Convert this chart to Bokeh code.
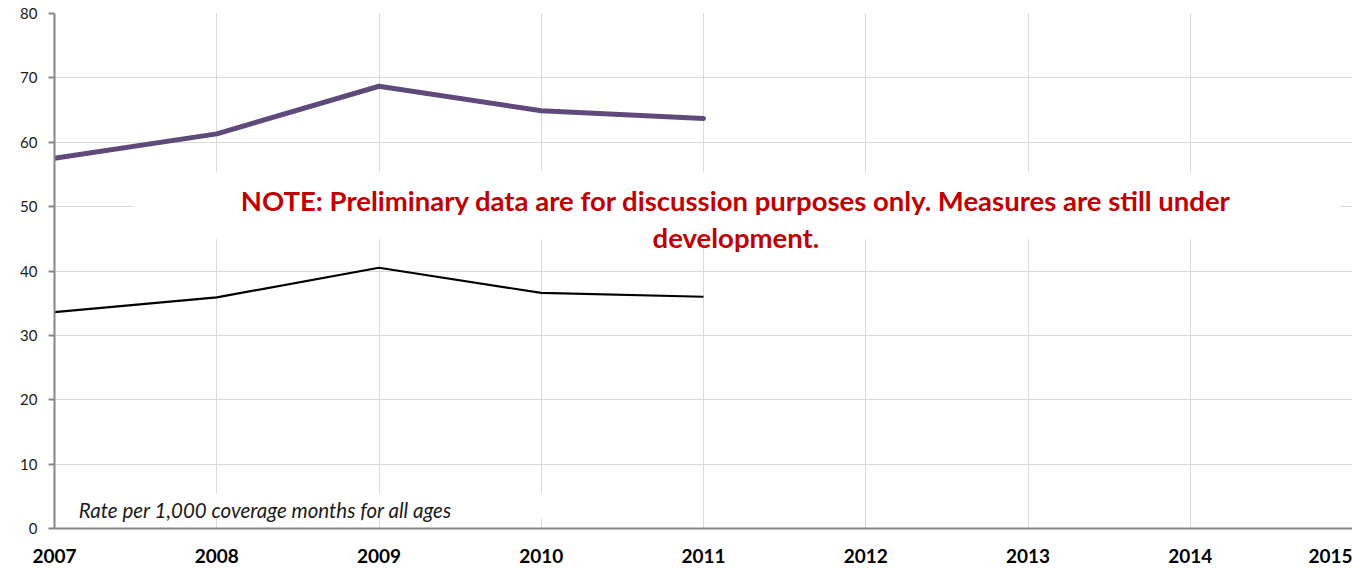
from bokeh.plotting import figure
from bokeh.models import Range1d, FixedTicker, Label, BoxAnnotation
from bokeh.embed import file_html
from bokeh.resources import INLINE

# Rate per 1,000 coverage months, all ages
years = [2007, 2008, 2009, 2010, 2011]
rate_purple = [57.5, 61.3, 68.7, 64.9, 63.7]
rate_black = [33.6, 35.9, 40.5, 36.6, 36.0]

axis_years = [2007, 2008, 2009, 2010, 2011, 2012, 2013, 2014, 2015]
y_ticks = [0, 10, 20, 30, 40, 50, 60, 70, 80]

note_line1 = "NOTE: Preliminary data are for discussion purposes only. Measures are still under"
note_line2 = "development."
rate_caption = "Rate per 1,000  coverage   months  for all ages"

FONT = "Lato"
GRID = "#D9D9D9"
AXIS = "#868686"

p = figure(
    width=1352, height=568,
    output_backend="svg", toolbar_location=None,
    x_range=Range1d(axis_years[0], axis_years[-1]),
    y_range=Range1d(y_ticks[0], y_ticks[-1]),
    min_border_left=54, min_border_right=0,
    min_border_top=13, min_border_bottom=40,
)
p.outline_line_color = None
p.background_fill_color = "white"
p.border_fill_color = "white"

# grid
p.xgrid.ticker = FixedTicker(ticks=axis_years)
p.ygrid.ticker = FixedTicker(ticks=y_ticks)
p.xgrid.grid_line_color = GRID
p.ygrid.grid_line_color = GRID
p.xgrid.grid_line_width = 1
p.ygrid.grid_line_width = 1

# x axis
p.xaxis.ticker = FixedTicker(ticks=axis_years)
p.xaxis.axis_line_color = AXIS
p.xaxis.axis_line_width = 2
p.xaxis.major_tick_line_color = None
p.xaxis.minor_tick_line_color = None
p.xaxis.major_label_text_font = FONT
p.xaxis.major_label_text_font_style = "bold"
p.xaxis.major_label_text_font_size = "19px"
p.xaxis.major_label_text_color = "#000000"
p.xaxis.major_label_standoff = 14

# y axis
p.yaxis.ticker = FixedTicker(ticks=y_ticks)
p.yaxis.axis_line_color = AXIS
p.yaxis.axis_line_width = 2
p.yaxis.major_tick_line_color = AXIS
p.yaxis.major_tick_line_width = 2
p.yaxis.major_tick_out = 6
p.yaxis.major_tick_in = 0
p.yaxis.minor_tick_line_color = None
p.yaxis.major_label_text_font = FONT
p.yaxis.major_label_text_font_size = "15px"
p.yaxis.major_label_text_color = "#1a1a1a"
p.yaxis.major_label_standoff = 11

# series
p.line(years, rate_black, line_color="#000000", line_width=2.2)
p.line(years, rate_purple, line_color="#604A7B", line_width=5, line_cap="round", line_join="round")

# white panels behind the notes
p.add_layout(BoxAnnotation(left=2007.49, right=2014.92, bottom=44.95, top=55.45,
                           fill_color="white", fill_alpha=1, line_color=None, level="underlay"))
p.add_layout(BoxAnnotation(left=2007.1, right=2010.11, bottom=1.55, top=5.45,
                           fill_color="white", fill_alpha=1, line_color=None, level="underlay"))

# note text
for txt, yv in ((note_line1, 50.95), (note_line2, 45.2)):
    p.add_layout(Label(x=2011.2, y=yv, text=txt, text_align="center", text_baseline="middle",
                       text_font=FONT, text_font_style="bold", text_font_size="27.5px",
                       text_color="#C00000"))

p.add_layout(Label(x=2007.15, y=2.95, text=rate_caption, text_align="left", text_baseline="middle",
                   text_font=FONT, text_font_style="italic", text_font_size="20.5px",
                   text_color="#1a1a1a"))

open("out.html", "w").write(file_html(p, INLINE))
